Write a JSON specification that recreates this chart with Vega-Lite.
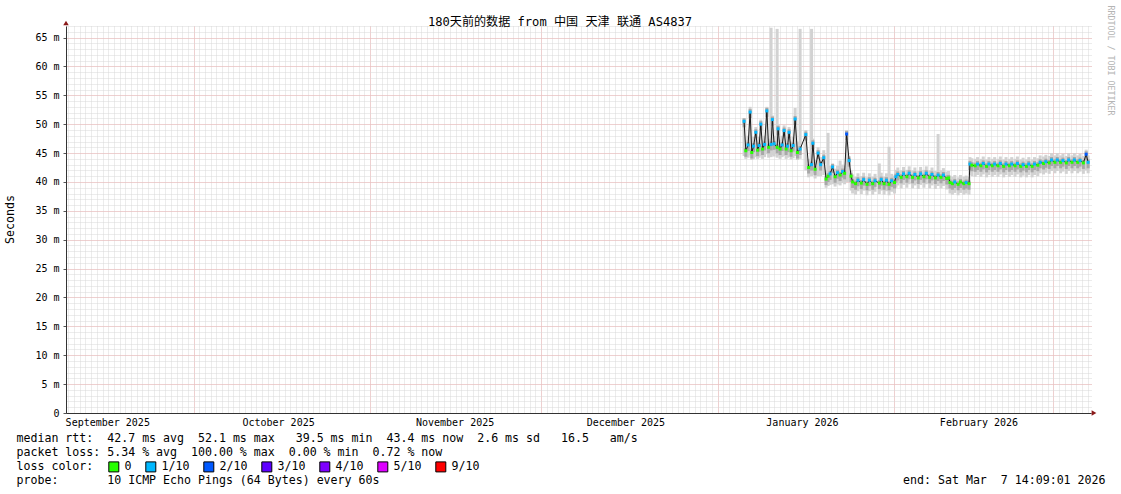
{
  "$schema": "https://vega.github.io/schema/vega-lite/v6.json",
  "width": 1025,
  "height": 387,
  "autosize": {"type": "none"},
  "padding": {"left": 66, "top": 26, "right": 30, "bottom": 81},
  "background": "white",
  "title": {"text": "180天前的数据 from 中国 天津 联通 AS4837", "font": "DejaVu Sans Mono, Noto Sans CJK SC", "fontSize": 12.1, "fontWeight": "normal", "color": "#000000", "anchor": "middle", "frame": "group", "dx": -18.5, "dy": 35, "offset": 2, "baseline": "alphabetic"},
  "config": {
    "font": "DejaVu Sans Mono",
    "view": {"stroke": null},
    "axis": {"labelFont": "DejaVu Sans Mono", "labelFontSize": 10, "labelColor": "#000000", "titleFont": "DejaVu Sans Mono", "titleFontWeight": "normal", "titleColor": "#000000", "titleFontSize": 11.6}
  },
  "data": {"values": [
    {"t": "2026-01-05T16:00:00Z", "m": 50.5, "lo": 44.5, "hi": 51.0, "l": "1/10"},
    {"t": "2026-01-05T23:20:00Z", "m": 45.4, "lo": 44.0, "hi": 47.2, "l": "0"},
    {"t": "2026-01-06T09:00:00Z", "m": 46.4, "lo": 44.2, "hi": 48.0, "l": "1/10"},
    {"t": "2026-01-06T17:30:00Z", "m": 52.1, "lo": 44.6, "hi": 53.0, "l": "1/10"},
    {"t": "2026-01-07T00:30:00Z", "m": 45.1, "lo": 43.8, "hi": 47.0, "l": "0"},
    {"t": "2026-01-07T08:00:00Z", "m": 46.2, "lo": 44.0, "hi": 47.8, "l": "1/10"},
    {"t": "2026-01-07T17:30:00Z", "m": 48.6, "lo": 44.3, "hi": 49.5, "l": "1/10"},
    {"t": "2026-01-08T01:00:00Z", "m": 45.5, "lo": 44.0, "hi": 47.2, "l": "0"},
    {"t": "2026-01-08T07:30:00Z", "m": 46.3, "lo": 44.2, "hi": 47.8, "l": "1/10"},
    {"t": "2026-01-08T14:30:00Z", "m": 50.0, "lo": 44.5, "hi": 50.8, "l": "1/10"},
    {"t": "2026-01-08T22:00:00Z", "m": 45.7, "lo": 44.0, "hi": 47.3, "l": "0"},
    {"t": "2026-01-09T06:30:00Z", "m": 46.5, "lo": 44.3, "hi": 48.0, "l": "1/10"},
    {"t": "2026-01-09T16:00:00Z", "m": 52.3, "lo": 44.8, "hi": 53.0, "l": "1/10"},
    {"t": "2026-01-09T23:20:00Z", "m": 46.0, "lo": 44.2, "hi": 47.5, "l": "0"},
    {"t": "2026-01-10T09:50:00Z", "m": 46.5, "lo": 44.3, "hi": 66.7, "l": "1/10"},
    {"t": "2026-01-10T15:20:00Z", "m": 50.8, "lo": 44.6, "hi": 51.5, "l": "1/10"},
    {"t": "2026-01-10T22:30:00Z", "m": 46.6, "lo": 44.4, "hi": 48.0, "l": "1/10"},
    {"t": "2026-01-11T11:20:00Z", "m": 46.0, "lo": 44.2, "hi": 66.5, "l": "0"},
    {"t": "2026-01-11T15:20:00Z", "m": 49.2, "lo": 44.5, "hi": 50.0, "l": "1/10"},
    {"t": "2026-01-11T23:45:00Z", "m": 45.7, "lo": 44.0, "hi": 47.3, "l": "0"},
    {"t": "2026-01-12T08:20:00Z", "m": 46.4, "lo": 44.3, "hi": 48.0, "l": "1/10"},
    {"t": "2026-01-12T16:45:00Z", "m": 48.9, "lo": 44.5, "hi": 49.8, "l": "1/10"},
    {"t": "2026-01-13T01:10:00Z", "m": 45.7, "lo": 44.0, "hi": 47.3, "l": "0"},
    {"t": "2026-01-13T07:30:00Z", "m": 46.2, "lo": 44.2, "hi": 47.8, "l": "1/10"},
    {"t": "2026-01-13T13:40:00Z", "m": 48.6, "lo": 44.4, "hi": 49.5, "l": "1/10"},
    {"t": "2026-01-13T22:20:00Z", "m": 45.4, "lo": 43.9, "hi": 47.0, "l": "0"},
    {"t": "2026-01-14T06:40:00Z", "m": 46.3, "lo": 44.1, "hi": 47.8, "l": "1/10"},
    {"t": "2026-01-14T15:10:00Z", "m": 50.9, "lo": 44.5, "hi": 52.8, "l": "1/10"},
    {"t": "2026-01-15T00:45:00Z", "m": 45.1, "lo": 43.8, "hi": 47.0, "l": "0"},
    {"t": "2026-01-15T12:10:00Z", "m": 45.7, "lo": 44.0, "hi": 66.5, "l": "1/10"},
    {"t": "2026-01-16T12:15:00Z", "m": 48.2, "lo": 42.0, "hi": 49.0, "l": "1/10"},
    {"t": "2026-01-17T00:00:00Z", "m": 42.5, "lo": 40.8, "hi": 44.0, "l": "0"},
    {"t": "2026-01-17T12:30:00Z", "m": 43.0, "lo": 41.0, "hi": 66.5, "l": "1/10"},
    {"t": "2026-01-17T18:00:00Z", "m": 46.7, "lo": 41.5, "hi": 47.5, "l": "1/10"},
    {"t": "2026-01-18T03:20:00Z", "m": 42.2, "lo": 40.6, "hi": 43.8, "l": "0"},
    {"t": "2026-01-18T16:00:00Z", "m": 45.0, "lo": 41.0, "hi": 46.0, "l": "1/10"},
    {"t": "2026-01-19T02:40:00Z", "m": 43.0, "lo": 41.0, "hi": 44.3, "l": "1/10"},
    {"t": "2026-01-19T16:00:00Z", "m": 44.2, "lo": 41.2, "hi": 45.5, "l": "1/10"},
    {"t": "2026-01-20T01:40:00Z", "m": 40.5, "lo": 39.0, "hi": 42.0, "l": "0"},
    {"t": "2026-01-20T10:00:00Z", "m": 41.0, "lo": 39.3, "hi": 48.5, "l": "0"},
    {"t": "2026-01-20T18:40:00Z", "m": 41.4, "lo": 39.5, "hi": 42.8, "l": "1/10"},
    {"t": "2026-01-21T05:00:00Z", "m": 42.6, "lo": 39.6, "hi": 43.2, "l": "1/10"},
    {"t": "2026-01-21T15:40:00Z", "m": 40.9, "lo": 39.2, "hi": 42.3, "l": "0"},
    {"t": "2026-01-22T02:10:00Z", "m": 41.6, "lo": 39.6, "hi": 42.8, "l": "1/10"},
    {"t": "2026-01-22T12:40:00Z", "m": 41.2, "lo": 39.4, "hi": 43.7, "l": "0"},
    {"t": "2026-01-22T23:20:00Z", "m": 41.8, "lo": 39.8, "hi": 43.0, "l": "1/10"},
    {"t": "2026-01-23T07:40:00Z", "m": 41.5, "lo": 39.6, "hi": 42.8, "l": "0"},
    {"t": "2026-01-23T16:10:00Z", "m": 48.3, "lo": 40.0, "hi": 49.0, "l": "2/10"},
    {"t": "2026-01-24T02:40:00Z", "m": 43.7, "lo": 40.0, "hi": 44.5, "l": "1/10"},
    {"t": "2026-01-24T11:00:00Z", "m": 41.0, "lo": 38.5, "hi": 42.0, "l": "0"},
    {"t": "2026-01-24T17:30:00Z", "m": 40.0, "lo": 38.0, "hi": 41.3, "l": "0"},
    {"t": "2026-01-25T06:00:00Z", "m": 39.7, "lo": 37.8, "hi": 40.9, "l": "0"},
    {"t": "2026-01-25T16:00:00Z", "m": 40.3, "lo": 38.4, "hi": 41.5, "l": "1/10"},
    {"t": "2026-01-26T06:00:00Z", "m": 39.8, "lo": 37.9, "hi": 41.0, "l": "0"},
    {"t": "2026-01-26T16:00:00Z", "m": 40.4, "lo": 38.5, "hi": 41.6, "l": "1/10"},
    {"t": "2026-01-27T06:00:00Z", "m": 39.6, "lo": 37.7, "hi": 40.8, "l": "0"},
    {"t": "2026-01-27T16:00:00Z", "m": 40.3, "lo": 38.4, "hi": 41.5, "l": "1/10"},
    {"t": "2026-01-28T06:00:00Z", "m": 39.7, "lo": 37.8, "hi": 40.9, "l": "0"},
    {"t": "2026-01-28T16:00:00Z", "m": 40.2, "lo": 38.3, "hi": 41.4, "l": "1/10"},
    {"t": "2026-01-29T10:00:00Z", "m": 39.8, "lo": 37.9, "hi": 43.2, "l": "0"},
    {"t": "2026-01-29T18:00:00Z", "m": 40.4, "lo": 38.5, "hi": 41.6, "l": "1/10"},
    {"t": "2026-01-30T06:00:00Z", "m": 39.7, "lo": 37.8, "hi": 40.9, "l": "0"},
    {"t": "2026-01-30T16:00:00Z", "m": 40.3, "lo": 38.4, "hi": 41.5, "l": "1/10"},
    {"t": "2026-01-31T03:00:00Z", "m": 39.6, "lo": 37.7, "hi": 46.1, "l": "0"},
    {"t": "2026-01-31T14:00:00Z", "m": 40.2, "lo": 38.3, "hi": 41.4, "l": "1/10"},
    {"t": "2026-02-01T02:00:00Z", "m": 39.9, "lo": 38.0, "hi": 41.1, "l": "0"},
    {"t": "2026-02-01T08:00:00Z", "m": 40.9, "lo": 39.0, "hi": 42.1, "l": "1/10"},
    {"t": "2026-02-01T16:00:00Z", "m": 41.3, "lo": 39.4, "hi": 42.5, "l": "1/10"},
    {"t": "2026-02-02T06:00:00Z", "m": 40.8, "lo": 38.9, "hi": 42.0, "l": "0"},
    {"t": "2026-02-02T16:00:00Z", "m": 41.4, "lo": 39.5, "hi": 42.6, "l": "1/10"},
    {"t": "2026-02-03T06:00:00Z", "m": 40.9, "lo": 39.0, "hi": 42.1, "l": "0"},
    {"t": "2026-02-03T16:00:00Z", "m": 41.5, "lo": 39.6, "hi": 42.7, "l": "1/10"},
    {"t": "2026-02-04T06:00:00Z", "m": 40.8, "lo": 38.9, "hi": 42.0, "l": "0"},
    {"t": "2026-02-04T16:00:00Z", "m": 41.3, "lo": 39.4, "hi": 42.5, "l": "1/10"},
    {"t": "2026-02-05T06:00:00Z", "m": 40.7, "lo": 38.8, "hi": 41.9, "l": "0"},
    {"t": "2026-02-05T16:00:00Z", "m": 41.4, "lo": 39.5, "hi": 42.6, "l": "1/10"},
    {"t": "2026-02-06T06:00:00Z", "m": 40.9, "lo": 39.0, "hi": 42.1, "l": "0"},
    {"t": "2026-02-06T16:00:00Z", "m": 41.5, "lo": 39.6, "hi": 42.7, "l": "1/10"},
    {"t": "2026-02-07T06:00:00Z", "m": 40.8, "lo": 38.9, "hi": 42.0, "l": "0"},
    {"t": "2026-02-07T16:00:00Z", "m": 41.3, "lo": 39.4, "hi": 42.5, "l": "1/10"},
    {"t": "2026-02-08T06:00:00Z", "m": 40.7, "lo": 38.8, "hi": 41.9, "l": "0"},
    {"t": "2026-02-08T17:45:00Z", "m": 41.2, "lo": 39.3, "hi": 48.3, "l": "1/10"},
    {"t": "2026-02-09T06:00:00Z", "m": 40.8, "lo": 38.9, "hi": 42.0, "l": "0"},
    {"t": "2026-02-09T16:00:00Z", "m": 41.2, "lo": 39.3, "hi": 42.4, "l": "1/10"},
    {"t": "2026-02-10T06:00:00Z", "m": 40.6, "lo": 38.7, "hi": 41.8, "l": "0"},
    {"t": "2026-02-10T14:00:00Z", "m": 40.7, "lo": 38.8, "hi": 41.9, "l": "0"},
    {"t": "2026-02-10T20:00:00Z", "m": 39.9, "lo": 38.0, "hi": 41.1, "l": "0"},
    {"t": "2026-02-11T06:00:00Z", "m": 39.7, "lo": 37.8, "hi": 40.9, "l": "0"},
    {"t": "2026-02-11T16:00:00Z", "m": 40.0, "lo": 38.1, "hi": 41.2, "l": "1/10"},
    {"t": "2026-02-12T06:00:00Z", "m": 39.6, "lo": 37.7, "hi": 40.8, "l": "0"},
    {"t": "2026-02-12T16:00:00Z", "m": 40.0, "lo": 38.1, "hi": 41.2, "l": "0"},
    {"t": "2026-02-13T06:00:00Z", "m": 39.7, "lo": 37.8, "hi": 40.9, "l": "0"},
    {"t": "2026-02-13T16:00:00Z", "m": 39.9, "lo": 38.0, "hi": 41.1, "l": "1/10"},
    {"t": "2026-02-14T04:00:00Z", "m": 39.7, "lo": 37.8, "hi": 40.9, "l": "0"},
    {"t": "2026-02-14T08:00:00Z", "m": 43.1, "lo": 41.2, "hi": 44.3, "l": "1/10"},
    {"t": "2026-02-14T16:00:00Z", "m": 42.9, "lo": 41.0, "hi": 44.1, "l": "0"},
    {"t": "2026-02-15T06:00:00Z", "m": 42.8, "lo": 40.9, "hi": 44.0, "l": "0"},
    {"t": "2026-02-15T16:00:00Z", "m": 43.1, "lo": 41.2, "hi": 44.3, "l": "1/10"},
    {"t": "2026-02-16T06:00:00Z", "m": 42.8, "lo": 40.9, "hi": 44.0, "l": "0"},
    {"t": "2026-02-16T16:00:00Z", "m": 43.2, "lo": 41.3, "hi": 44.4, "l": "1/10"},
    {"t": "2026-02-17T06:00:00Z", "m": 42.7, "lo": 40.8, "hi": 43.9, "l": "0"},
    {"t": "2026-02-17T16:00:00Z", "m": 43.1, "lo": 41.2, "hi": 44.3, "l": "1/10"},
    {"t": "2026-02-18T06:00:00Z", "m": 42.8, "lo": 40.9, "hi": 44.0, "l": "0"},
    {"t": "2026-02-18T16:00:00Z", "m": 43.1, "lo": 41.2, "hi": 44.3, "l": "1/10"},
    {"t": "2026-02-19T06:00:00Z", "m": 42.8, "lo": 40.9, "hi": 44.0, "l": "0"},
    {"t": "2026-02-19T16:00:00Z", "m": 43.2, "lo": 41.3, "hi": 44.4, "l": "1/10"},
    {"t": "2026-02-20T06:00:00Z", "m": 42.7, "lo": 40.8, "hi": 43.9, "l": "0"},
    {"t": "2026-02-20T16:00:00Z", "m": 43.1, "lo": 41.2, "hi": 44.3, "l": "1/10"},
    {"t": "2026-02-21T06:00:00Z", "m": 42.8, "lo": 40.9, "hi": 44.0, "l": "0"},
    {"t": "2026-02-21T16:00:00Z", "m": 43.1, "lo": 41.2, "hi": 44.3, "l": "1/10"},
    {"t": "2026-02-22T06:00:00Z", "m": 42.8, "lo": 40.9, "hi": 44.0, "l": "0"},
    {"t": "2026-02-22T16:00:00Z", "m": 43.2, "lo": 41.3, "hi": 44.4, "l": "1/10"},
    {"t": "2026-02-23T06:00:00Z", "m": 42.7, "lo": 40.8, "hi": 43.9, "l": "0"},
    {"t": "2026-02-23T16:00:00Z", "m": 43.0, "lo": 41.1, "hi": 44.2, "l": "1/10"},
    {"t": "2026-02-24T06:00:00Z", "m": 42.7, "lo": 40.8, "hi": 43.9, "l": "0"},
    {"t": "2026-02-24T16:00:00Z", "m": 43.1, "lo": 41.2, "hi": 44.3, "l": "1/10"},
    {"t": "2026-02-25T06:00:00Z", "m": 42.7, "lo": 40.8, "hi": 43.9, "l": "0"},
    {"t": "2026-02-25T16:00:00Z", "m": 43.1, "lo": 41.2, "hi": 44.3, "l": "1/10"},
    {"t": "2026-02-26T06:00:00Z", "m": 42.9, "lo": 41.0, "hi": 44.1, "l": "0"},
    {"t": "2026-02-26T16:00:00Z", "m": 43.4, "lo": 41.5, "hi": 44.6, "l": "1/10"},
    {"t": "2026-02-27T06:00:00Z", "m": 43.2, "lo": 41.3, "hi": 44.4, "l": "0"},
    {"t": "2026-02-27T16:00:00Z", "m": 43.5, "lo": 41.6, "hi": 44.7, "l": "1/10"},
    {"t": "2026-02-28T06:00:00Z", "m": 43.3, "lo": 41.4, "hi": 44.5, "l": "0"},
    {"t": "2026-02-28T16:00:00Z", "m": 43.8, "lo": 41.9, "hi": 45.0, "l": "1/10"},
    {"t": "2026-03-01T06:00:00Z", "m": 43.4, "lo": 41.5, "hi": 44.6, "l": "0"},
    {"t": "2026-03-01T16:00:00Z", "m": 43.8, "lo": 41.9, "hi": 45.0, "l": "1/10"},
    {"t": "2026-03-02T06:00:00Z", "m": 43.4, "lo": 41.5, "hi": 44.6, "l": "0"},
    {"t": "2026-03-02T16:00:00Z", "m": 43.7, "lo": 41.8, "hi": 44.9, "l": "1/10"},
    {"t": "2026-03-03T06:00:00Z", "m": 43.3, "lo": 41.4, "hi": 44.5, "l": "0"},
    {"t": "2026-03-03T16:00:00Z", "m": 43.8, "lo": 41.9, "hi": 45.0, "l": "1/10"},
    {"t": "2026-03-04T06:00:00Z", "m": 43.4, "lo": 41.5, "hi": 44.6, "l": "0"},
    {"t": "2026-03-04T16:00:00Z", "m": 43.8, "lo": 41.9, "hi": 45.0, "l": "1/10"},
    {"t": "2026-03-05T06:00:00Z", "m": 43.4, "lo": 41.5, "hi": 44.6, "l": "0"},
    {"t": "2026-03-05T16:00:00Z", "m": 43.7, "lo": 41.8, "hi": 44.9, "l": "1/10"},
    {"t": "2026-03-06T06:00:00Z", "m": 43.3, "lo": 41.4, "hi": 44.5, "l": "0"},
    {"t": "2026-03-06T17:45:00Z", "m": 44.8, "lo": 42.0, "hi": 45.6, "l": "2/10"},
    {"t": "2026-03-07T02:00:00Z", "m": 43.4, "lo": 41.5, "hi": 44.6, "l": "1/10"}
  ]},
  "resolve": {"axis": {"x": "independent", "y": "independent"}},
  "layer": [
    {
      "mark": {"type": "rule", "strokeWidth": 3, "color": "#d2d2d2"},
      "encoding": {
        "x": {"field": "t", "type": "temporal",
          "scale": {"type": "utc", "domain": [{"year": 2025, "month": 9, "date": 8, "hours": 14, "minutes": 9, "seconds": 1, "utc": true}, {"year": 2026, "month": 3, "date": 7, "hours": 14, "minutes": 9, "seconds": 1, "utc": true}]},
          "axis": {"orient": "bottom", "grid": true, "gridColor": "#d9d9d9", "gridDash": [1, 1], "gridOpacity": 1, "tickCount": {"interval": "day", "step": 1}, "labels": false, "ticks": false, "domain": false,
            "title": "packet loss: 5.34 % avg\u00a0\u00a0100.00 % max\u00a0\u00a00.00 % min\u00a0\u00a00.72 % now", "titleX": -50, "titleY": 33, "titleAlign": "left", "titleAnchor": "start", "titleBaseline": "top"}},
        "y": {"field": "lo", "type": "quantitative",
          "scale": {"domain": [0, 67], "nice": false, "zero": false},
          "axis": {"orient": "left", "grid": true, "gridColor": "#d9d9d9", "gridDash": [1, 1], "gridOpacity": 1, "tickCount": 67, "labels": false, "ticks": false, "domain": false, "title": null}},
        "y2": {"field": "hi"}
      }
    },
    {
      "mark": {"type": "point", "shape": "M-0.3,-0.6H0.3V1.2H-0.3Z", "size": 100, "filled": true, "color": "#a8a8a8", "opacity": 1},
      "encoding": {
        "x": {"field": "t", "type": "temporal",
          "scale": {"type": "utc", "domain": [{"year": 2025, "month": 9, "date": 8, "hours": 14, "minutes": 9, "seconds": 1, "utc": true}, {"year": 2026, "month": 3, "date": 7, "hours": 14, "minutes": 9, "seconds": 1, "utc": true}]},
          "axis": {"orient": "bottom", "grid": true, "gridColor": "#f0b4b4", "gridDash": [1, 1], "gridOpacity": 1, "tickCount": {"interval": "month", "step": 1}, "labels": false, "ticks": false, "domain": false,
            "title": "probe:\u00a0\u00a0\u00a0\u00a0\u00a0\u00a0\u00a010 ICMP Echo Pings (64 Bytes) every 60s", "titleX": -50, "titleY": 61, "titleAlign": "left", "titleAnchor": "start", "titleBaseline": "top"}},
        "y": {"field": "m", "type": "quantitative",
          "scale": {"domain": [0, 67], "nice": false, "zero": false},
          "axis": {"orient": "left", "grid": true, "gridColor": "#f0b4b4", "gridDash": [1, 1], "gridOpacity": 1, "values": [0, 5, 10, 15, 20, 25, 30, 35, 40, 45, 50, 55, 60, 65], "labelExpr": "datum.value == 0 ? '0\u00a0\u00a0' : datum.value + ' m'", "ticks": true, "tickSize": 3, "tickColor": "#555555", "labelPadding": 4, "labelBaseline": "middle", "domain": true, "domainColor": "#333333", "title": "Seconds", "titleX": -55.5, "titleY": 193, "titleAngle": 270, "titleBaseline": "middle", "titleAlign": "center"}}
      }
    },
    {
      "mark": {"type": "line", "color": "#1a1a1a", "strokeWidth": 1},
      "encoding": {
        "x": {"field": "t", "type": "temporal",
          "scale": {"type": "utc", "domain": [{"year": 2025, "month": 9, "date": 8, "hours": 14, "minutes": 9, "seconds": 1, "utc": true}, {"year": 2026, "month": 3, "date": 7, "hours": 14, "minutes": 9, "seconds": 1, "utc": true}]},
          "axis": {"orient": "bottom", "grid": false, "values": [
              {"year": 2025, "month": 9, "date": 15, "hours": 20, "utc": true},
              {"year": 2025, "month": 10, "date": 15, "hours": 20, "utc": true},
              {"year": 2025, "month": 11, "date": 15, "hours": 20, "utc": true},
              {"year": 2025, "month": 12, "date": 15, "hours": 20, "utc": true},
              {"year": 2026, "month": 1, "date": 15, "hours": 20, "utc": true},
              {"year": 2026, "month": 2, "date": 15, "hours": 20, "utc": true}],
            "labelExpr": "utcFormat(datum.value, '%B %Y')", "labelFlush": false, "labelOverlap": false, "ticks": false, "labelPadding": 4, "domain": true, "domainColor": "#333333",
            "title": "median rtt:\u00a0\u00a042.7 ms avg\u00a0\u00a052.1 ms max\u00a0\u00a0\u00a039.5 ms min\u00a0\u00a043.4 ms now\u00a0\u00a02.6 ms sd\u00a0\u00a0\u00a016.5\u00a0\u00a0\u00a0am/s",
            "titleX": -50, "titleY": 19, "titleAlign": "left", "titleAnchor": "start", "titleBaseline": "top"}},
        "y": {"field": "m", "type": "quantitative", "scale": {"domain": [0, 67], "nice": false, "zero": false}, "axis": null}
      }
    },
    {
      "mark": {"type": "point", "shape": "square", "size": 9, "filled": true, "opacity": 1},
      "encoding": {
        "x": {"field": "t", "type": "temporal",
          "scale": {"type": "utc", "domain": [{"year": 2025, "month": 9, "date": 8, "hours": 14, "minutes": 9, "seconds": 1, "utc": true}, {"year": 2026, "month": 3, "date": 7, "hours": 14, "minutes": 9, "seconds": 1, "utc": true}]},
          "axis": {"orient": "bottom", "grid": false, "labels": false, "ticks": false, "domain": false, "title": "end: Sat Mar\u00a0\u00a07 14:09:01 2026", "titleX": 1039, "titleY": 61, "titleAlign": "right", "titleAnchor": "end", "titleBaseline": "top"}},
        "y": {"field": "m", "type": "quantitative", "scale": {"domain": [0, 67], "nice": false, "zero": false},
          "axis": {"orient": "right", "grid": false, "labels": false, "ticks": false, "domain": false, "title": "RRDTOOL / TOBI OETIKER", "titleAngle": 90, "titleX": 18, "titleY": 34, "titleBaseline": "middle", "titleAlign": "center", "titleColor": "#b4b4b4", "titleFontSize": 8.3}},
        "color": {"field": "l", "type": "nominal",
          "scale": {"domain": ["0", "1/10", "2/10", "3/10", "4/10", "5/10", "9/10"], "range": ["#26ff00", "#00b8ff", "#0059ff", "#5e00ff", "#7e00ff", "#dd00ff", "#ff0000"]},
          "legend": {"orient": "none", "legendX": 42, "legendY": 435, "direction": "horizontal", "title": null, "gridAlign": "each", "labelFont": "DejaVu Sans Mono", "labelFontSize": 11.6, "labelColor": "#000000", "labelOffset": 5, "columnPadding": 11, "symbolType": "square", "symbolSize": 100, "symbolStrokeColor": "#000000", "symbolStrokeWidth": 1, "symbolOpacity": 1, "padding": 0, "offset": 0}}
      }
    },
    {
      "data": {"values": [{"t": "2026-03-07T14:09:01Z", "v": 0}]},
      "mark": {"type": "point", "shape": "triangle-right", "size": 30, "filled": true, "color": "#8b1a1a", "opacity": 1, "xOffset": 3},
      "encoding": {
        "x": {"field": "t", "type": "temporal", "scale": {"type": "utc", "domain": [{"year": 2025, "month": 9, "date": 8, "hours": 14, "minutes": 9, "seconds": 1, "utc": true}, {"year": 2026, "month": 3, "date": 7, "hours": 14, "minutes": 9, "seconds": 1, "utc": true}]},
          "axis": {"orient": "bottom", "grid": false, "labels": false, "ticks": false, "domain": false, "title": "loss color:", "titleX": -50, "titleY": 47, "titleAlign": "left", "titleAnchor": "start", "titleBaseline": "top"}},
        "y": {"field": "v", "type": "quantitative", "scale": {"domain": [0, 67], "nice": false, "zero": false}, "axis": null}
      }
    },
    {
      "data": {"values": [{"t": "2025-09-08T14:09:01Z", "v": 67}]},
      "mark": {"type": "point", "shape": "triangle-up", "size": 30, "filled": true, "color": "#8b1a1a", "opacity": 1, "yOffset": -3},
      "encoding": {
        "x": {"field": "t", "type": "temporal", "scale": {"type": "utc", "domain": [{"year": 2025, "month": 9, "date": 8, "hours": 14, "minutes": 9, "seconds": 1, "utc": true}, {"year": 2026, "month": 3, "date": 7, "hours": 14, "minutes": 9, "seconds": 1, "utc": true}]}, "axis": null},
        "y": {"field": "v", "type": "quantitative", "scale": {"domain": [0, 67], "nice": false, "zero": false}, "axis": null}
      }
    }
  ]
}
